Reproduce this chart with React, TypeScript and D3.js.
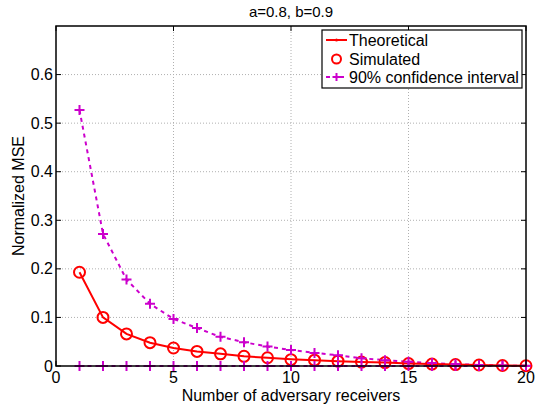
import React from "react";
import * as d3 from "d3";

const xs = [1, 2, 3, 4, 5, 6, 7, 8, 9, 10, 11, 12, 13, 14, 15, 16, 17, 18, 19, 20];
const theoretical = [0.193, 0.1, 0.066, 0.048, 0.037, 0.03, 0.025, 0.02, 0.017, 0.014, 0.012, 0.01, 0.008, 0.007, 0.005, 0.004, 0.003, 0.002, 0.001, 0.0006];
const simulated = [0.193, 0.1, 0.066, 0.048, 0.037, 0.03, 0.025, 0.02, 0.017, 0.013, 0.012, 0.01, 0.008, 0.007, 0.005, 0.004, 0.003, 0.002, 0.001, 0.0005];
const ciUpper = [0.527, 0.272, 0.178, 0.128, 0.097, 0.078, 0.06, 0.049, 0.04, 0.033, 0.027, 0.022, 0.016, 0.012, 0.009, 0.006, 0.004, 0.002, 0.001, 0.0003];
const ciLower = [0, 0, 0, 0, 0, 0, 0, 0, 0, 0, 0, 0, 0, 0, 0, 0, 0, 0, 0, 0];
const xTicks = [0, 5, 10, 15, 20];
const yTicks = [0, 0.1, 0.2, 0.3, 0.4, 0.5, 0.6];
const legendLabels = ["Theoretical", "Simulated", "90% confidence interval"];

const RED = "#ff0000";
const MAG = "#cc00cc";
const FONT = "'Liberation Sans', Arial, Helvetica, sans-serif";

export default function App() {
  const W = 539, H = 407;
  const left = 56, right = 526, top = 26, bottom = 366;
  const x = d3.scaleLinear().domain([0, 20]).range([left, right]);
  const y = d3.scaleLinear().domain([0, 0.7]).range([bottom, top]);
  const line = d3.line<number>().x((_, i) => x(xs[i])).y((d) => y(d));

  const plus = (cx: number, cy: number, k: string, s = 5) => (
    <path key={k} d={`M${cx - s},${cy}H${cx + s}M${cx},${cy - s}V${cy + s}`} stroke={MAG} strokeWidth={2} fill="none" />
  );

  const lx0 = 326, lx1 = 347, ltx = 349;
  const rows = [40, 59, 77];

  return (
    <svg width={W} height={H} style={{ position: "absolute", left: 0, top: 0, background: "#fff" }} fontFamily={FONT}>
      <rect x={0} y={0} width={W} height={H} fill="#fff" />
      {/* grid */}
      {xTicks.slice(1, -1).map((t) => (
        <line key={"gx" + t} x1={x(t)} x2={x(t)} y1={top} y2={bottom} stroke="#b0b0b0" strokeWidth={1} strokeDasharray="1,2" />
      ))}
      {yTicks.slice(1).map((t) => (
        <line key={"gy" + t} x1={left} x2={right} y1={y(t)} y2={y(t)} stroke="#b0b0b0" strokeWidth={1} strokeDasharray="1,2" />
      ))}
      {/* ticks */}
      {xTicks.map((t) => (
        <g key={"tx" + t}>
          <line x1={x(t)} x2={x(t)} y1={bottom} y2={bottom - 5} stroke="#000" />
          <line x1={x(t)} x2={x(t)} y1={top} y2={top + 5} stroke="#000" />
          <text x={x(t)} y={383} fontSize={16} textAnchor="middle" fill="#000">{t}</text>
        </g>
      ))}
      {yTicks.map((t) => (
        <g key={"ty" + t}>
          <line x1={left} x2={left + 5} y1={y(t)} y2={y(t)} stroke="#000" />
          <line x1={right} x2={right - 5} y1={y(t)} y2={y(t)} stroke="#000" />
          <text x={left - 3} y={y(t) + 5.5} fontSize={16} textAnchor="end" fill="#000">{t === 0 ? "0" : t.toFixed(1)}</text>
        </g>
      ))}
      {/* data */}
      <path d={line(ciUpper) || ""} fill="none" stroke={MAG} strokeWidth={2} strokeDasharray="4,4" />
      <path d={line(ciLower) || ""} fill="none" stroke={MAG} strokeWidth={2} strokeDasharray="4,4" />
      <path d={line(theoretical) || ""} fill="none" stroke={RED} strokeWidth={2} />
      {simulated.map((v, i) => (
        <circle key={"s" + i} cx={x(xs[i])} cy={y(v)} r={5.5} fill="none" stroke={RED} strokeWidth={2} />
      ))}
      {ciUpper.map((v, i) => plus(x(xs[i]), y(v), "u" + i))}
      {ciLower.map((v, i) => plus(x(xs[i]), y(v), "l" + i))}
      {/* frame */}
      <rect x={left} y={top} width={right - left} height={bottom - top} fill="none" stroke="#000" strokeWidth={1.5} />
      {/* title & labels */}
      <text x={(left + right) / 2} y={17} fontSize={15} textAnchor="middle" fill="#000">a=0.8, b=0.9</text>
      <text x={(left + right) / 2} y={401} fontSize={16} textAnchor="middle" fill="#000">Number of adversary receivers</text>
      <text transform={`translate(24,${(top + bottom) / 2}) rotate(-90)`} fontSize={16} textAnchor="middle" fill="#000">Normalized MSE</text>
      {/* legend */}
      <rect x={322} y={30} width={200} height={58} fill="#fff" stroke="#000" strokeWidth={1.2} />
      <line x1={lx0} x2={lx1} y1={rows[0]} y2={rows[0]} stroke={RED} strokeWidth={2} />
      <circle cx={(lx0 + lx1) / 2} cy={rows[0]} r={1.5} fill={RED} />
      <circle cx={(lx0 + lx1) / 2} cy={rows[1]} r={4.5} fill="none" stroke={RED} strokeWidth={2} />
      <line x1={lx0} x2={lx1} y1={rows[2]} y2={rows[2]} stroke={MAG} strokeWidth={2} strokeDasharray="4,3" />
      {plus((lx0 + lx1) / 2, rows[2], "lp", 4)}
      {legendLabels.map((l, i) => (
        <text key={l} x={ltx} y={rows[i] + 5.5} fontSize={16} fill="#000">{l}</text>
      ))}
    </svg>
  );
}
